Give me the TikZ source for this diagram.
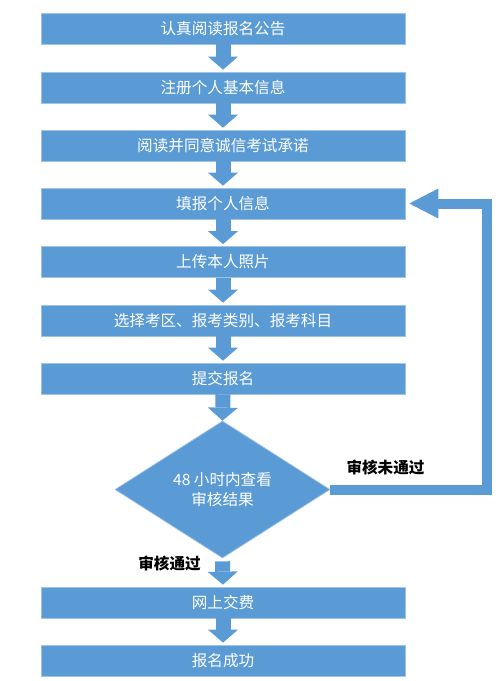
\documentclass[tikz,border=0pt]{standalone}
\usepackage{fontspec}
\setmainfont{Noto Sans CJK SC}
\usetikzlibrary{arrows.meta,shapes.geometric,calc}
\definecolor{boxblue}{HTML}{5B9BD5}
\definecolor{boxedge}{HTML}{9DC3E6}
\begin{document}
\begin{tikzpicture}[x=1pt,y=-1pt,
  stepbox/.style={rectangle,fill=boxblue,draw=boxedge,line width=0.7pt,minimum width=364pt,minimum height=31pt,inner sep=0pt,text=white,font=\fontsize{15.6}{18}\selectfont},
  decision/.style={diamond,fill=boxblue,draw=boxedge,line width=0.7pt,minimum width=215pt,minimum height=137pt,aspect=1.6,inner sep=0pt,text=white,align=center,font=\fontsize{15.6}{20.5}\selectfont},
  blockarrow/.style={draw=boxblue,line width=15pt,-{Triangle[width=30pt,length=13pt,line width=0pt]},shorten >=2pt},
  backarrow/.style={draw=boxblue,line width=10pt,line join=miter,-{Triangle[width=30pt,length=29pt,line width=0pt]},shorten >=4pt},
  lab/.style={text=black,font=\fontsize{15.6}{18}\selectfont\bfseries}]
\useasboundingbox (0,0) rectangle (500,681);
\node[stepbox] (b1) at (223,28.5) {认真阅读报名公告};
\node[stepbox] (b2) at (223,87.5) {注册个人基本信息};
\node[stepbox] (b3) at (223,145.5) {阅读并同意诚信考试承诺};
\node[stepbox] (b4) at (223,203.5) {填报个人信息};
\node[stepbox] (b5) at (223,262) {上传本人照片};
\node[stepbox] (b6) at (223,320.5) {选择考区、报考类别、报考科目};
\node[stepbox] (b7) at (223,378.5) {提交报名};
\node[decision] (d) at (222.5,489.5) {48 小时内查看\\审核结果};
\node[stepbox] (b8) at (223,602.5) {网上交费};
\node[stepbox] (b9) at (223,660.5) {报名成功};
\draw[blockarrow] (b1.south) -- (b2.north);
\draw[blockarrow] (b2.south) -- (b3.north);
\draw[blockarrow] (b3.south) -- (b4.north);
\draw[blockarrow] (b4.south) -- (b5.north);
\draw[blockarrow] (b5.south) -- (b6.north);
\draw[blockarrow] (b6.south) -- (b7.north);
\draw[blockarrow,shorten >=0pt] (b7.south) -- (d.north);
\draw[blockarrow,shorten <=3pt] (d.south) -- (b8.north);
\draw[blockarrow] (b8.south) -- (b9.north);
\coordinate (c1) at (486.5,203.5);
\draw[backarrow] (d.east) -| (c1) -- (b4.east);
\node[lab] (l1) at (385.5,467) {审核未通过};
\node[lab] (l2) at (169.5,563) {审核通过};
\end{tikzpicture}
\end{document}
